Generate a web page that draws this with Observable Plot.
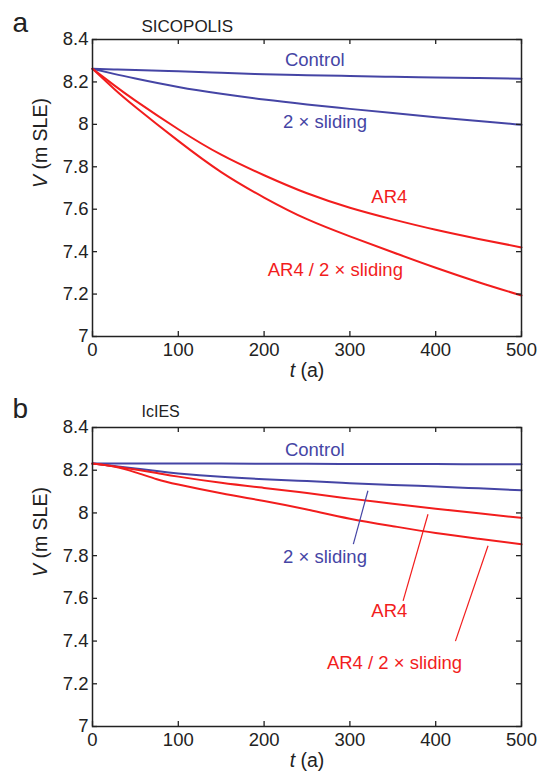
<!DOCTYPE html>
<html><head><meta charset="utf-8">
<script src="https://cdn.jsdelivr.net/npm/d3@7"></script>
<script src="https://cdn.jsdelivr.net/npm/@observablehq/plot@0.6"></script>
<style>
body{margin:0;background:#fff;}
svg{display:block}
</style></head><body><div id="chart"></div>
<script>
const xTicks = [0,100,200,300,400,500];
const xTickLabels = ["0","100","200","300","400","500"];
const yTicks = [7,7.2,7.4,7.6,7.8,8,8.2,8.4];
const yTickLabels = ["7","7.2","7.4","7.6","7.8","8","8.2","8.4"];

const seriesNames = ["Control","2 × sliding","AR4","AR4 / 2 × sliding"];

// Panel a: SICOPOLIS
const tA = [0,25,50,100,150,200,250,300,350,400,450,500];
const sicoControl    = [8.262,8.259,8.256,8.250,8.243,8.236,8.232,8.228,8.224,8.221,8.218,8.215];
const sicoSliding    = [8.262,8.238,8.216,8.176,8.144,8.117,8.094,8.073,8.053,8.034,8.016,7.998];
const sicoAR4        = [8.262,8.185,8.112,7.977,7.857,7.760,7.675,7.607,7.552,7.503,7.460,7.420];
const sicoAR4Sliding = [8.262,8.168,8.082,7.922,7.775,7.655,7.553,7.472,7.397,7.324,7.256,7.193];
const labelTA = [259,271,346,283];
const labelVA = [8.303,8.011,7.656,7.314];

// Panel b: IcIES
const tB = [0,25,50,75,100,150,200,250,300,350,400,450,500];
const iciesControl    = [8.231,8.231,8.231,8.231,8.231,8.231,8.230,8.230,8.229,8.229,8.229,8.228,8.228];
const iciesSliding    = [8.231,8.220,8.208,8.196,8.185,8.169,8.158,8.149,8.139,8.131,8.124,8.115,8.106];
const iciesAR4        = [8.231,8.218,8.203,8.187,8.170,8.141,8.117,8.093,8.067,8.043,8.020,7.998,7.977];
const iciesAR4Sliding = [8.231,8.217,8.190,8.158,8.133,8.092,8.056,8.016,7.973,7.938,7.906,7.879,7.853];
const labelTB = [259,271,346,352];
const labelVB = [8.296,7.793,7.541,7.295];
// leader lines (panel b) for series 2..4
const leaderT1 = [321,391,461];
const leaderV1 = [8.104,7.994,7.846];
const leaderT2 = [304,362,423];
const leaderV2 = [7.854,7.588,7.400];

const BLUE = "#4545a5", RED = "#f21d1d", INK = "#222";
const seriesColors = [BLUE, BLUE, RED, RED];
const FONT = "'Liberation Sans', Arial, Helvetica, sans-serif";

function panel({t, series, labT, labV, leaders, letter, model, height, mt, mb, modelSize, letterDy, modelDy}) {
  const W = 544, ML = 92, MR = 23;
  const fh = height - mt - mb, fw = W - ML - MR;
  const marks = [];
  series.forEach((vals, k) => {
    marks.push(Plot.line(t.map((tt, i) => ({t: tt, v: vals[i]})),
      {x: "t", y: "v", stroke: seriesColors[k], strokeWidth: 2, curve: "natural"}));
  });
  if (leaders) {
    const L = leaderT1.map((d, i) => ({x1: d, y1: leaderV1[i], x2: leaderT2[i], y2: leaderV2[i], c: seriesColors[i + 1]}));
    marks.push(Plot.link(L, {x1: "x1", y1: "y1", x2: "x2", y2: "y2", stroke: d => d.c, strokeWidth: 1.2}));
  }
  const labs = seriesNames.map((n, i) => ({n, x: labT[i], y: labV[i], c: seriesColors[i]}));
  marks.push(Plot.text(labs, {x: "x", y: "y", text: "n", fill: d => d.c, fontSize: 18.5}));
  marks.push(
    Plot.frame({stroke: INK, strokeWidth: 1.5}),
    Plot.tickX(xTicks, {x: d => d, insetTop: fh - 5, stroke: INK, strokeWidth: 1.3}),
    Plot.tickX(xTicks, {x: d => d, insetBottom: fh - 5, stroke: INK, strokeWidth: 1.3}),
    Plot.tickY(yTicks, {y: d => d, insetRight: fw - 5, stroke: INK, strokeWidth: 1.3}),
    Plot.tickY(yTicks, {y: d => d, insetLeft: fw - 5, stroke: INK, strokeWidth: 1.3}),
    Plot.axisX({ticks: xTicks, tickSize: 0, tickPadding: 6, fontSize: 18.5, label: null,
      tickFormat: d => xTickLabels[xTicks.indexOf(d)]}),
    Plot.axisY({ticks: yTicks, tickSize: 0, tickPadding: 4, fontSize: 18.5, label: null,
      tickFormat: d => yTickLabels[yTicks.indexOf(d)]}),
    Plot.text(["V (m SLE)"], {frameAnchor: "left", dx: -52, rotate: -90, fontSize: 19.5, fill: INK}),
    Plot.text(["t (a)"], {frameAnchor: "bottom", dy: 40, fontSize: 19.5, fill: INK}),
    Plot.text([letter], {frameAnchor: "top-left", dx: -80, dy: letterDy, fontSize: 28, textAnchor: "start", fill: INK}),
    Plot.text([model], {frameAnchor: "top-left", dx: 49, dy: modelDy, fontSize: modelSize, textAnchor: "start", fill: INK})
  );
  const svg = Plot.plot({
    width: W, height, marginLeft: ML, marginRight: MR, marginTop: mt, marginBottom: mb,
    style: {fontFamily: FONT, color: INK, background: "#fff", overflow: "visible"},
    x: {domain: [0, 500]},
    y: {domain: [7, 8.4]},
    marks
  });
  d3.select(svg).selectAll("text").each(function() {
    const s = this.textContent;
    if (s === "V (m SLE)" || s === "t (a)") {
      const first = s[0], rest = s.slice(1);
      const el = d3.select(this);
      el.text(null);
      el.append("tspan").attr("font-style", "italic").text(first);
      el.append("tspan").text(rest);
    }
  });
  return svg;
}

const root = document.getElementById("chart");
root.appendChild(panel({t: tA, series: [sicoControl, sicoSliding, sicoAR4, sicoAR4Sliding],
  labT: labelTA, labV: labelVA, leaders: false, letter: "a", model: "SICOPOLIS",
  height: 385, mt: 39, mb: 49, modelSize: 17, letterDy: -27, modelDy: -20}));
root.appendChild(panel({t: tB, series: [iciesControl, iciesSliding, iciesAR4, iciesAR4Sliding],
  labT: labelTB, labV: labelVB, leaders: true, letter: "b", model: "IcIES",
  height: 391, mt: 42, mb: 50, modelSize: 16, letterDy: -29, modelDy: -22}));
</script>
</body></html>
